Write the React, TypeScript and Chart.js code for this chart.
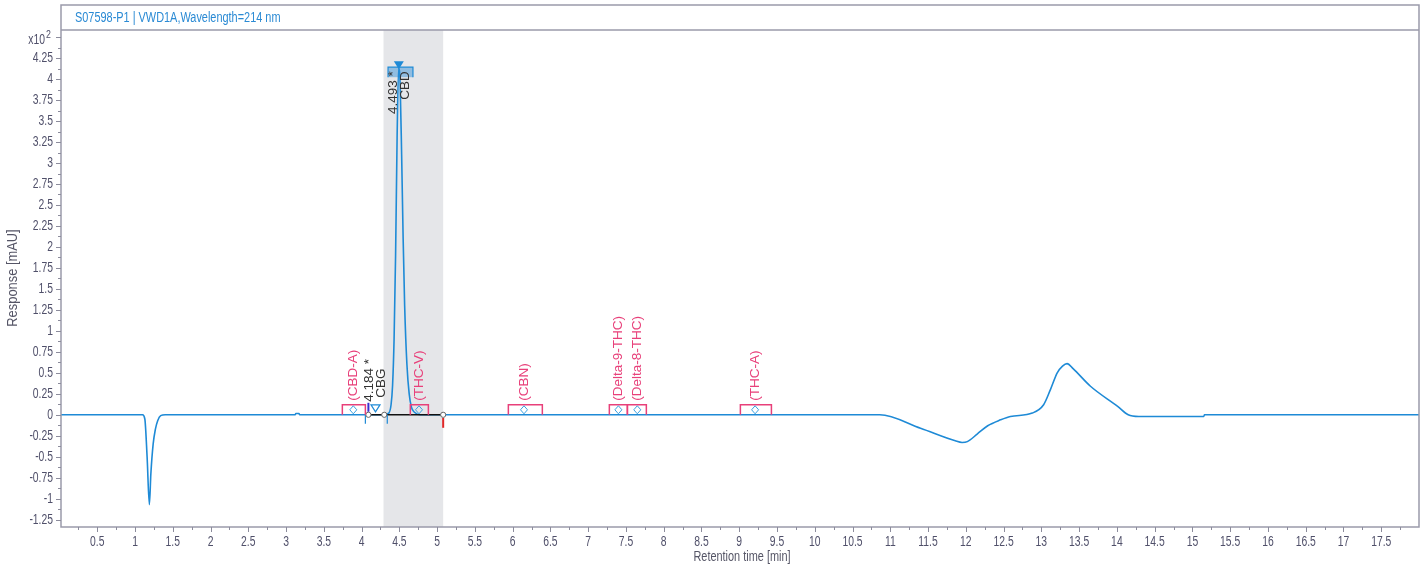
import { useEffect, useRef } from "react";
import { Chart, registerables } from "chart.js";

Chart.register(...registerables);

const chartTitle = "S07598-P1 | VWD1A,Wavelength=214 nm";
const xAxisTitle = "Retention time [min]";
const yAxisTitle = "Response [mAU]";
const yExponentBase = "x10";
const yExponent = "2";

const retentionTimes = [
  0.02, 1.1, 1.13, 1.16, 1.19, 1.21, 1.24, 1.27, 1.3, 1.34, 1.4,
  3.12, 3.13, 3.17, 3.18,
  4.3, 4.36, 4.39, 4.41, 4.43, 4.45, 4.47, 4.49, 4.51, 4.53, 4.55, 4.57, 4.6, 4.63, 4.66, 4.7, 4.78,
  10.86, 11.4, 11.86, 11.95, 12.02, 12.15, 12.29, 12.46, 12.59, 12.88, 13.03, 13.12, 13.21, 13.28, 13.34,
  13.42, 13.65, 14.01, 14.15, 14.29, 15.15, 15.16, 18.0,
];
const responses = [
  0, 0, -0.05, -0.5, -1.07, -0.7, -0.35, -0.17, -0.07, -0.01, 0,
  0, 0.015, 0.015, 0,
  0, 0.02, 0.12, 0.35, 0.9, 1.9, 3.3, 4.13, 3.95, 3.1, 2.1, 1.3, 0.6, 0.25, 0.09, 0.03, 0,
  0, -0.16, -0.31, -0.33, -0.32, -0.23, -0.13, -0.06, -0.02, 0.02, 0.12, 0.3, 0.5, 0.58, 0.61,
  0.55, 0.34, 0.1, 0.0, -0.02, -0.02, 0, 0,
];

const xTickValues = [
  0.5, 1, 1.5, 2, 2.5, 3, 3.5, 4, 4.5, 5, 5.5, 6, 6.5, 7, 7.5, 8, 8.5, 9, 9.5,
  10, 10.5, 11, 11.5, 12, 12.5, 13, 13.5, 14, 14.5, 15, 15.5, 16, 16.5, 17, 17.5,
];
const yTickValues = [
  -1.25, -1, -0.75, -0.5, -0.25, 0, 0.25, 0.5, 0.75, 1, 1.25, 1.5, 1.75, 2, 2.25,
  2.5, 2.75, 3, 3.25, 3.5, 3.75, 4, 4.25,
];
const yExponentTickValue = 4.5;
const xRange = [0.02, 18.0];
const yRange = [-1.337, 4.585];

const expectedNames = ["(CBD-A)", "(THC-V)", "(CBN)", "(Delta-9-THC)", "(Delta-8-THC)", "(THC-A)"];
const expectedTimes = [3.89, 4.76, 6.15, 7.4, 7.65, 9.21];
const expectedStarts = [3.745, 4.645, 5.943, 7.28, 7.519, 9.015];
const expectedEnds = [4.05, 4.884, 6.393, 7.519, 7.77, 9.426];

const identifiedNames = ["CBG", "CBD"];
const identifiedTimeLabels = ["4.184 *", "4.493 *"];
const identifiedTimes = [4.184, 4.493];
const identifiedHeights = [0, 4.13];
const cbdWindow = [4.35, 4.68];

const integrationPoints = [4.09, 4.3, 5.08];
const shadedWindow = [4.29, 5.08];
const peakStartTicks = [4.05, 4.34];

const TRACE = "#1e8ad6";
const PINK = "#e8407a";
const AXIS_TEXT = "#50506a";
const FRAME = "#9a9aaa";
const FONT_FAMILY = "'Liberation Sans', Arial, sans-serif";

function hText(ctx: CanvasRenderingContext2D, text: string, x: number, y: number, align: CanvasTextAlign, color: string, font: string, sx = 1) {
  ctx.save();
  ctx.translate(x, y);
  ctx.scale(sx, 1);
  ctx.textAlign = align;
  ctx.textBaseline = "middle";
  ctx.fillStyle = color;
  ctx.font = font;
  ctx.fillText(text, 0, 0);
  ctx.restore();
}

function vText(ctx: CanvasRenderingContext2D, text: string, x: number, y: number, align: CanvasTextAlign, color: string, font: string, sx = 1) {
  ctx.save();
  ctx.translate(x, y);
  ctx.rotate(-Math.PI / 2);
  ctx.scale(sx, 1);
  ctx.textAlign = align;
  ctx.textBaseline = "middle";
  ctx.fillStyle = color;
  ctx.font = font;
  ctx.fillText(text, 0, 0);
  ctx.restore();
}

const decorPlugin = {
  id: "decor",
  beforeDatasetsDraw(chart: any) {
    const { ctx, chartArea, scales } = chart;
    const xs = scales.x;
    const x0 = xs.getPixelForValue(shadedWindow[0]);
    const x1 = xs.getPixelForValue(shadedWindow[1]);
    ctx.save();
    ctx.fillStyle = "#e5e6e9";
    ctx.fillRect(x0, chartArea.top, x1 - x0, chartArea.bottom - chartArea.top);
    ctx.restore();
  },
  afterDatasetsDraw(chart: any) {
    const { ctx, scales } = chart;
    const xs = scales.x;
    const ys = scales.y;
    const base = ys.getPixelForValue(0);
    ctx.save();

    // integration baseline
    ctx.strokeStyle = "#111";
    ctx.lineWidth = 1.5;
    ctx.beginPath();
    ctx.moveTo(xs.getPixelForValue(integrationPoints[0]), base);
    ctx.lineTo(xs.getPixelForValue(integrationPoints[integrationPoints.length - 1]), base);
    ctx.stroke();

    // peak start ticks (blue, below baseline)
    ctx.strokeStyle = TRACE;
    ctx.lineWidth = 1.2;
    peakStartTicks.forEach((t) => {
      const px = xs.getPixelForValue(t);
      ctx.beginPath();
      ctx.moveTo(px, base);
      ctx.lineTo(px, base + 9);
      ctx.stroke();
    });

    // red end tick
    const xe = xs.getPixelForValue(integrationPoints[integrationPoints.length - 1]);
    ctx.strokeStyle = "#e02828";
    ctx.lineWidth = 2;
    ctx.beginPath();
    ctx.moveTo(xe, base + 3);
    ctx.lineTo(xe, base + 13);
    ctx.stroke();

    // purple start tick
    const xsTick = xs.getPixelForValue(integrationPoints[0]);
    ctx.strokeStyle = "#3a2fd0";
    ctx.lineWidth = 2;
    ctx.beginPath();
    ctx.moveTo(xsTick, base - 12);
    ctx.lineTo(xsTick, base - 3);
    ctx.stroke();

    // integration circles
    integrationPoints.forEach((t) => {
      const px = xs.getPixelForValue(t);
      ctx.beginPath();
      ctx.arc(px, base, 2.6, 0, Math.PI * 2);
      ctx.fillStyle = "#fff";
      ctx.fill();
      ctx.strokeStyle = "#666";
      ctx.lineWidth = 1;
      ctx.stroke();
    });

    // expected compound boxes
    const labelFont = `13.5px ${FONT_FAMILY}`;
    expectedNames.forEach((name, i) => {
      const a = xs.getPixelForValue(expectedStarts[i]);
      const b = xs.getPixelForValue(expectedEnds[i]);
      const c = xs.getPixelForValue(expectedTimes[i]);
      ctx.strokeStyle = PINK;
      ctx.lineWidth = 1.5;
      ctx.beginPath();
      ctx.moveTo(a, base);
      ctx.lineTo(a, base - 10);
      ctx.lineTo(b, base - 10);
      ctx.lineTo(b, base);
      ctx.stroke();
      // diamond
      ctx.strokeStyle = "#3aa0e0";
      ctx.lineWidth = 1;
      ctx.beginPath();
      ctx.moveTo(c, base - 9);
      ctx.lineTo(c + 3.5, base - 5);
      ctx.lineTo(c, base - 1);
      ctx.lineTo(c - 3.5, base - 5);
      ctx.closePath();
      ctx.stroke();
      vText(ctx, name, c, base - 14, "left", PINK, labelFont);
    });

    // CBD identified window box
    const wa = xs.getPixelForValue(cbdWindow[0]);
    const wb = xs.getPixelForValue(cbdWindow[1]);
    const apexY = ys.getPixelForValue(identifiedHeights[1]);
    ctx.fillStyle = "rgba(40,140,215,0.45)";
    ctx.fillRect(wa, apexY - 1, wb - wa, 10);
    ctx.strokeStyle = TRACE;
    ctx.lineWidth = 1.2;
    ctx.beginPath();
    ctx.moveTo(wa, apexY + 9);
    ctx.lineTo(wa, apexY - 1);
    ctx.lineTo(wb, apexY - 1);
    ctx.lineTo(wb, apexY + 9);
    ctx.stroke();

    // markers
    const cbgX = xs.getPixelForValue(identifiedTimes[0]);
    ctx.strokeStyle = TRACE;
    ctx.lineWidth = 1.2;
    ctx.beginPath();
    ctx.moveTo(cbgX - 4.5, base - 10);
    ctx.lineTo(cbgX + 4.5, base - 10);
    ctx.lineTo(cbgX, base - 3);
    ctx.closePath();
    ctx.stroke();

    const cbdX = xs.getPixelForValue(identifiedTimes[1]);
    ctx.fillStyle = TRACE;
    ctx.beginPath();
    ctx.moveTo(cbdX - 5, apexY - 7);
    ctx.lineTo(cbdX + 5, apexY - 7);
    ctx.lineTo(cbdX, apexY + 1);
    ctx.closePath();
    ctx.fill();

    // identified labels
    const idFont = `13.5px ${FONT_FAMILY}`;
    vText(ctx, identifiedTimeLabels[0], cbgX - 6, base - 13, "left", "#333", idFont);
    vText(ctx, identifiedNames[0], cbgX + 6, base - 17, "left", "#333", idFont);
    vText(ctx, identifiedTimeLabels[1], cbdX - 6, apexY + 3, "right", "#333", idFont);
    vText(ctx, identifiedNames[1], cbdX + 6, apexY + 3, "right", "#333", idFont);

    ctx.restore();
  },
  afterDraw(chart: any) {
    const { ctx, chartArea, scales } = chart;
    const xs = scales.x;
    const ys = scales.y;
    const { left, right, top, bottom } = chartArea;
    ctx.save();
    // frame
    ctx.strokeStyle = FRAME;
    ctx.lineWidth = 1.5;
    ctx.strokeRect(left, 5, right - left, bottom - 5);
    ctx.beginPath();
    ctx.moveTo(left, top);
    ctx.lineTo(right, top);
    ctx.stroke();

    // title
    hText(ctx, chartTitle, left + 14, 18, "left", "#2a8ad4", `14px ${FONT_FAMILY}`, 0.78);

    // tick marks
    ctx.strokeStyle = "#8c8c9c";
    ctx.lineWidth = 1;
    const yMajors = [...yTickValues, yExponentTickValue];
    yMajors.forEach((v) => {
      const py = Math.round(ys.getPixelForValue(v)) + 0.5;
      ctx.beginPath();
      ctx.moveTo(left - 5, py);
      ctx.lineTo(left, py);
      ctx.stroke();
      const pm = Math.round(ys.getPixelForValue(v + 0.125)) + 0.5;
      if (v + 0.125 < ys.max) {
        ctx.beginPath();
        ctx.moveTo(left - 3, pm);
        ctx.lineTo(left, pm);
        ctx.stroke();
      }
    });
    const pmLow = Math.round(ys.getPixelForValue(yTickValues[0] - 0.125)) + 0.5;
    if (yTickValues[0] - 0.125 > ys.min) {
      ctx.beginPath();
      ctx.moveTo(left - 3, pmLow);
      ctx.lineTo(left, pmLow);
      ctx.stroke();
    }
    xTickValues.forEach((v) => {
      const px = Math.round(xs.getPixelForValue(v)) + 0.5;
      ctx.beginPath();
      ctx.moveTo(px, bottom);
      ctx.lineTo(px, bottom + 5);
      ctx.stroke();
      [v - 0.25, v + 0.25].forEach((m) => {
        if (m > xs.min && m < xs.max && (m === v + 0.25 || v === xTickValues[0])) {
          const pm = Math.round(xs.getPixelForValue(m)) + 0.5;
          ctx.beginPath();
          ctx.moveTo(pm, bottom);
          ctx.lineTo(pm, bottom + 3);
          ctx.stroke();
        }
      });
    });

    // tick labels
    const tickFont = `14px ${FONT_FAMILY}`;
    yTickValues.forEach((v) => {
      hText(ctx, String(v), left - 8, ys.getPixelForValue(v) + 0.5, "right", AXIS_TEXT, tickFont, 0.74);
    });
    xTickValues.forEach((v) => {
      hText(ctx, String(v), xs.getPixelForValue(v), bottom + 15, "center", AXIS_TEXT, tickFont, 0.74);
    });

    // exponent label
    const ey = ys.getPixelForValue(yExponentTickValue);
    hText(ctx, yExponentBase, left - 16, ey + 3, "right", AXIS_TEXT, tickFont, 0.74);
    hText(ctx, yExponent, left - 10, ey - 2, "right", AXIS_TEXT, `11px ${FONT_FAMILY}`, 0.8);

    // axis titles
    hText(ctx, xAxisTitle, (left + right) / 2 + 2, bottom + 30, "center", "#555566", `14px ${FONT_FAMILY}`, 0.78);
    vText(ctx, yAxisTitle, 13, 278, "center", "#555566", `14px ${FONT_FAMILY}`, 0.92);

    ctx.restore();
  },
};

export default function App() {
  const ref = useRef<HTMLCanvasElement | null>(null);
  useEffect(() => {
    document.body.style.margin = "0";
    const canvas = ref.current;
    if (!canvas) return;
    const points = retentionTimes.map((t, i) => ({ x: t, y: responses[i] }));
    const chart = new Chart(canvas, {
      type: "line",
      data: {
        datasets: [
          {
            data: points,
            borderColor: TRACE,
            borderWidth: 1.6,
            pointRadius: 0,
            tension: 0.3,
            cubicInterpolationMode: "monotone",
            fill: false,
          },
        ],
      },
      options: {
        responsive: false,
        animation: false,
        devicePixelRatio: 1,
        layout: { padding: { top: 30, right: 9, left: 0, bottom: 0 } },
        plugins: { legend: { display: false }, tooltip: { enabled: false }, title: { display: false } },
        scales: {
          x: {
            type: "linear",
            min: xRange[0],
            max: xRange[1],
            border: { display: false },
            grid: { display: false, drawTicks: false },
            afterBuildTicks: (s: any) => {
              s.ticks = xTickValues.map((v) => ({ value: v }));
            },
            afterFit: (s: any) => {
              s.height = 40;
            },
            ticks: { display: false },
          },
          y: {
            type: "linear",
            min: yRange[0],
            max: yRange[1],
            border: { display: false },
            grid: { display: false, drawTicks: false },
            afterBuildTicks: (s: any) => {
              s.ticks = yTickValues.map((v) => ({ value: v }));
            },
            afterFit: (s: any) => {
              s.width = 61;
            },
            ticks: { display: false },
          },
        },
      },
      plugins: [decorPlugin],
    } as any);
    return () => chart.destroy();
  }, []);
  return <canvas ref={ref} width={1428} height={567} style={{ display: "block", width: 1428, height: 567 }} />;
}
